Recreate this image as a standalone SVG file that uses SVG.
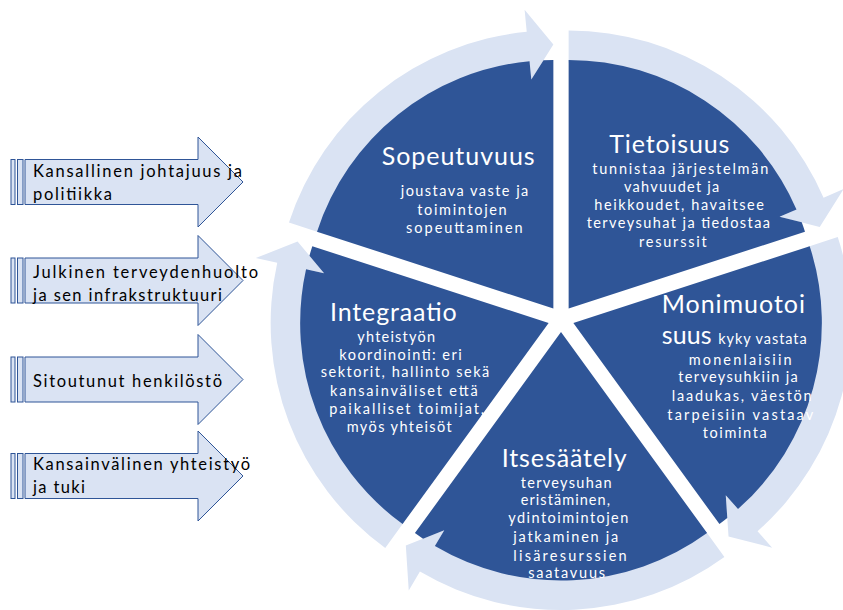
<svg xmlns="http://www.w3.org/2000/svg" width="843" height="610" viewBox="0 0 843 610">
<style>
.wedge{fill:#2F5597}
.ring{fill:#DAE3F3}
.barrow{fill:#DAE3F3;stroke:#2F5597;stroke-width:1}
.lt{font-family:Lato,"Liberation Sans",sans-serif;font-size:16.5px;fill:#000}
.tt{font-family:Lato,"Liberation Sans",sans-serif;font-size:25px;fill:#fff}
.st{font-family:Lato,"Liberation Sans",sans-serif;font-size:14.5px;fill:#fff}
</style>
<defs>
<path id="wedge" d="M0,0 L-146.07,-201.04 A248.5,248.5 0 0 1 126.11,-214.10 L116.73,-198.17 L137.96,-206.68 A248.5,248.5 0 0 1 146.07,-201.04 Z"/>
<path id="ring" d="M-163.41,-224.90 A278,278 0 0 1 141.09,-239.52 L152.25,-258.48 L155.18,-213.58 L116.73,-198.17 L124.85,-211.95 A246,246 0 0 0 -144.60,-199.01 Z"/>
</defs>
<rect width="843" height="610" fill="#fff"/>

<g id="connectors">
<use href="#ring" class="ring" transform="translate(553.36,308.48) rotate(-36)"/>
<use href="#ring" class="ring" transform="translate(568.64,308.48) rotate(36)"/>
<use href="#ring" class="ring" transform="translate(573.36,323.02) rotate(108)"/>
<use href="#ring" class="ring" transform="translate(561,332) rotate(180)"/>
<use href="#ring" class="ring" transform="translate(548.64,323.02) rotate(-108)"/>
</g>

<g id="sopeutuvuus">
<use href="#wedge" class="wedge" transform="translate(553.36,308.48) rotate(-36)"/>
<text class="tt" x="381.7" y="165" textLength="153">Sopeutuvuus</text>
<text class="st" x="400.7" y="196" textLength="127.6">joustava vaste ja</text>
<text class="st" x="417.3" y="215" textLength="89.4">toimintojen</text>
<text class="st" x="406" y="233.3" textLength="116.7">sopeuttaminen</text>
</g>

<g id="tietoisuus">
<use href="#wedge" class="wedge" transform="translate(568.64,308.48) rotate(36)"/>
<text class="tt" x="609.3" y="153.3" textLength="120">Tietoisuus</text>
<text class="st" x="592.3" y="174" textLength="176">tunnistaa järjestelmän</text>
<text class="st" x="624" y="191.7" textLength="95.3">vahvuudet ja</text>
<text class="st" x="594.3" y="210" textLength="169.7">heikkoudet, havaitsee</text>
<text class="st" x="586.7" y="228.3" textLength="183.3">terveysuhat ja tiedostaa</text>
<text class="st" x="639" y="246.7" textLength="67.7">resurssit</text>
</g>

<g id="monimuotoisuus">
<use href="#wedge" class="wedge" transform="translate(573.36,323.02) rotate(108)"/>
<text class="tt" x="661.7" y="313.3" textLength="143.3">Monimuotoi</text>
<text class="tt" x="661.7" y="344" textLength="50">suus</text>
<text class="st" x="718.3" y="344" textLength="88.4">kyky vastata</text>
<text class="st" x="688.7" y="365" textLength="103">monenlaisiin</text>
<text class="st" x="678.3" y="381.7" textLength="119.4">terveysuhkiin ja</text>
<text class="st" x="671.7" y="400.7" textLength="140">laadukas, väestön</text>
<text class="st" x="667.3" y="420" textLength="146">tarpeisiin vastaav</text>
<text class="st" x="702.7" y="438.3" textLength="64">toiminta</text>
</g>

<g id="itsesaately">
<use href="#wedge" class="wedge" transform="translate(561,332) rotate(180)"/>
<text class="tt" x="501.7" y="466.7" textLength="125">Itsesäätely</text>
<text class="st" x="520.7" y="488.3" textLength="91">terveysuhan</text>
<text class="st" x="520.7" y="505" textLength="89.3">eristäminen,</text>
<text class="st" x="508.3" y="523.3" textLength="120">ydintoimintojen</text>
<text class="st" x="513.3" y="541.7" textLength="105">jatkaminen ja</text>
<text class="st" x="513.3" y="560.7" textLength="113.4">lisäresurssien</text>
<text class="st" x="528.3" y="578.3" textLength="76.7">saatavuus</text>
</g>

<g id="integraatio">
<use href="#wedge" class="wedge" transform="translate(548.64,323.02) rotate(-108)"/>
<text class="tt" x="330" y="320.7" textLength="126.7">Integraatio</text>
<text class="st" x="357.3" y="341.7" textLength="77.7">yhteistyön</text>
<text class="st" x="339.3" y="360" textLength="122.4">koordinointi: eri</text>
<text class="st" x="320.7" y="377.3" textLength="168.6">sektorit, hallinto sekä</text>
<text class="st" x="330" y="396" textLength="147.7">kansainväliset että</text>
<text class="st" x="329.3" y="414" textLength="154.7">paikalliset toimijat,</text>
<text class="st" x="346.7" y="431.7" textLength="105">myös yhteisöt</text>
</g>

<g id="kansallinen">
<rect class="barrow" x="11" y="159.5" width="4" height="45"/>
<rect class="barrow" x="17.5" y="159.5" width="5.5" height="45"/>
<path class="barrow" d="M25,159.5 H198 V137 L243,182 L198,227 V204.5 H25 Z"/>
<text class="lt" x="33" y="176.7" textLength="209">Kansallinen johtajuus ja</text>
<text class="lt" x="33" y="200" textLength="79">politiikka</text>
</g>

<g id="julkinen">
<rect class="barrow" x="11" y="258" width="4" height="45"/>
<rect class="barrow" x="17.5" y="258" width="5.5" height="45"/>
<path class="barrow" d="M25,258 H198 V235.5 L243,280.5 L198,325.5 V303 H25 Z"/>
<text class="lt" x="33" y="277.5" textLength="225">Julkinen terveydenhuolto</text>
<text class="lt" x="33" y="300.5" textLength="189">ja sen infrakstruktuuri</text>
</g>

<g id="sitoutunut">
<rect class="barrow" x="11" y="357" width="4" height="45"/>
<rect class="barrow" x="17.5" y="357" width="5.5" height="45"/>
<path class="barrow" d="M25,357 H198 V334.5 L243,379.5 L198,424.5 V402 H25 Z"/>
<text class="lt" x="33" y="386.5" textLength="189">Sitoutunut henkilöstö</text>
</g>

<g id="kansainvalinen">
<rect class="barrow" x="11" y="453.5" width="4" height="45"/>
<rect class="barrow" x="17.5" y="453.5" width="5.5" height="45"/>
<path class="barrow" d="M25,453.5 H198 V431 L243,476 L198,521 V498.5 H25 Z"/>
<text class="lt" x="33" y="470" textLength="217">Kansainvälinen yhteistyö</text>
<text class="lt" x="33" y="493" textLength="52">ja tuki</text>
</g>
</svg>
